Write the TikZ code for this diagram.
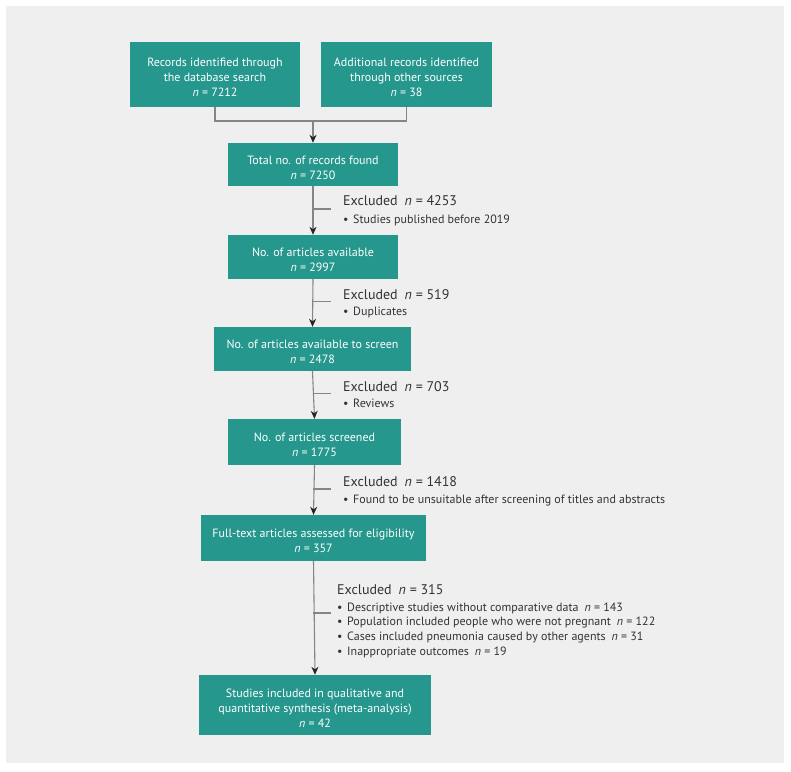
\documentclass[tikz,border=0pt]{standalone}
\usepackage{fontspec}
\setmainfont{PT Sans}
\usetikzlibrary{arrows.meta}
\definecolor{teal1}{HTML}{25978D}
\definecolor{bggray}{HTML}{EEEFEE}
\definecolor{linegray}{HTML}{858585}
\definecolor{txtdark}{HTML}{333333}
\tikzset{
  box/.style={fill=teal1, draw=none, inner sep=0pt},
  boxtext/.style={text=white, align=center, inner sep=0pt, yshift=-3pt,
    font=\fontsize{12}{15}\selectfont},
  conn/.style={draw=linegray, line width=1.1pt},
  arr/.style={conn, -{Stealth[length=8pt,width=7pt,inset=2.5pt,color=black!85]}},
  exhead/.style={anchor=west, inner sep=0pt, text=txtdark, font=\fontsize{14}{16}\selectfont},
  exlist/.style={anchor=north west, inner sep=0pt, text=txtdark, align=left, font=\fontsize{12}{14.6}\selectfont},
}
\newcommand{\nn}{\textit{n}\ =\ }
\newcommand{\bul}{\makebox[10pt][l]{\textbullet}}
\begin{document}
\begin{tikzpicture}[x=1pt,y=-1pt]
\useasboundingbox (0,0) rectangle (791,771);
\fill[white] (0,0) rectangle (791,771);
\fill[bggray] (6,6) rectangle (784,763);

\node[box, minimum width=170pt, minimum height=65pt] (b1) at (215,74.5) {};
\node[boxtext] (t1) at (b1) {Records identified through\\the database search\\\nn 7212};
\node[box, minimum width=171pt, minimum height=65pt] (b2) at (406.5,74.5) {};
\node[boxtext] (t2) at (b2) {Additional records identified\\through other sources\\\nn 38};
\node[box, minimum width=170pt, minimum height=43pt] (b3) at (313,164.5) {};
\node[boxtext] (t3) at (b3) {Total no. of records found\\\nn 7250};
\node[box, minimum width=170pt, minimum height=44pt] (b4) at (313,257) {};
\node[boxtext] (t4) at (b4) {No. of articles available\\\nn 2997};
\node[box, minimum width=197pt, minimum height=44pt] (b5) at (312.5,349) {};
\node[boxtext] (t5) at (b5) {No. of articles available to screen\\\nn 2478};
\node[box, minimum width=173pt, minimum height=46pt] (b6) at (314.5,442) {};
\node[boxtext] (t6) at (b6) {No. of articles screened\\\nn 1775};
\node[box, minimum width=225pt, minimum height=46pt] (b7) at (313.5,538) {};
\node[boxtext] (t7) at (b7) {Full-text articles assessed for eligibility\\\nn 357};
\node[box, minimum width=232pt, minimum height=60pt] (b8) at (315,705) {};
\node[boxtext] (t8) at (b8) {Studies included in qualitative and\\quantitative synthesis (meta-analysis)\\\nn 42};

% merge
\coordinate (j) at (313,121);
\draw[conn] (b1.south) |- (j) -| (b2.south);
\draw[arr] (j) -- (b3.north);

% trunk arrows
\draw[arr] (b3.south) -- (b4.north);
\draw[arr] (b4.south) -- (b5.north);
\draw[arr] (b5.south) -- (b6.north);
\draw[arr] (b6.south) -- (b7.north);
\draw[arr] (b7.south) -- (b8.north);

% branches
\coordinate (e1) at (313,209);
\coordinate (e2) at (313,301.5);
\coordinate (e3) at (313,393.5);
\coordinate (e4) at (313,489);
\coordinate (e5) at (313,613);
\draw[conn] (e1) -- ++(18,0);
\draw[conn] (e2) -- ++(18,0);
\draw[conn] (e3) -- ++(18,0);
\draw[conn] (e4) -- ++(18,0);
\draw[conn] (e5) -- ++(18,0);

% exclusion texts
\node[exhead] (x1) at (343,201) {Excluded\enspace\nn 4253};
\node[exlist] (l1) at (343,214.5) {\bul Studies published before 2019};
\node[exhead] (x2) at (343,294.5) {Excluded\enspace\nn 519};
\node[exlist] (l2) at (343,306.5) {\bul Duplicates};
\node[exhead] (x3) at (343,387) {Excluded\enspace\nn 703};
\node[exlist] (l3) at (343,398.5) {\bul Reviews};
\node[exhead] (x4) at (343,482) {Excluded\enspace\nn 1418};
\node[exlist] (l4) at (343,494.5) {\bul Found to be unsuitable after screening of titles and abstracts};
\node[exhead] (x5) at (337,590) {Excluded\enspace\nn 315};
\node[exlist] (l5) at (337,602.5) {\bul Descriptive studies without comparative data\enspace\nn 143\\
  \bul Population included people who were not pregnant\enspace\nn 122\\
  \bul Cases included pneumonia caused by other agents\enspace\nn 31\\
  \bul Inappropriate outcomes\enspace\nn 19};
\end{tikzpicture}
\end{document}
